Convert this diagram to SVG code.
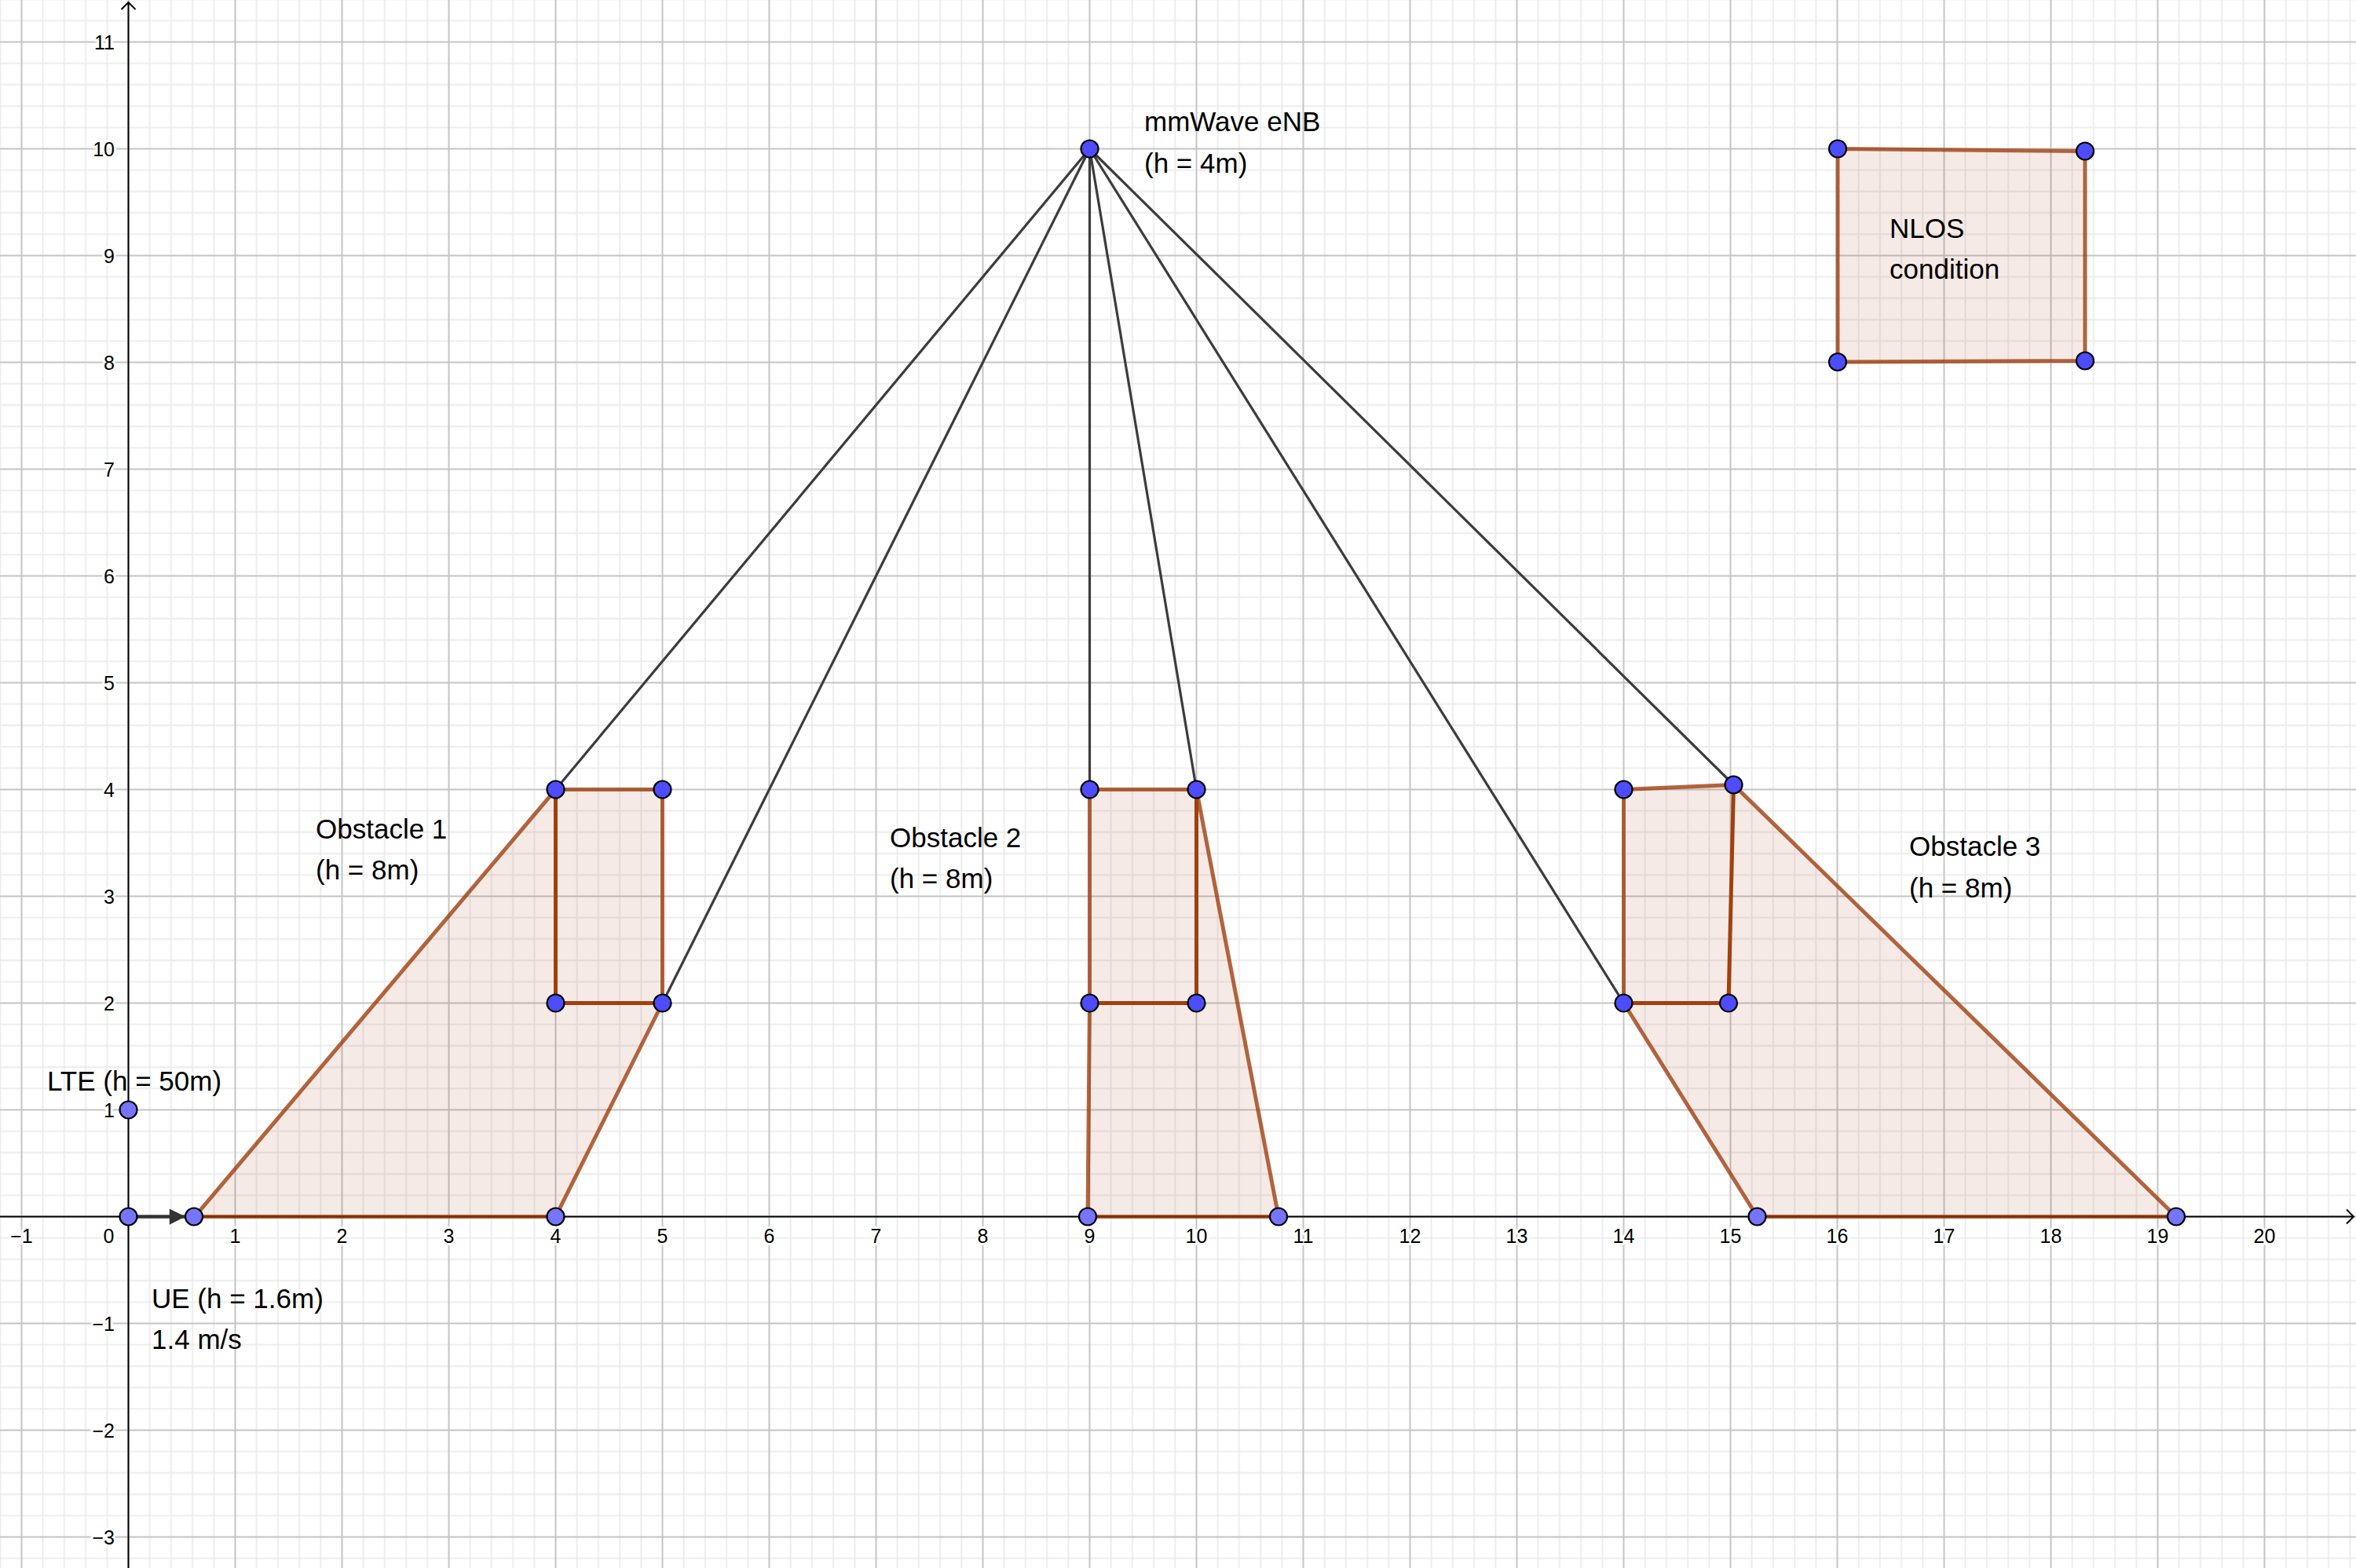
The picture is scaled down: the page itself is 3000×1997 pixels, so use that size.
<svg xmlns="http://www.w3.org/2000/svg" width="3000" height="1997" viewBox="0 0 3000 1997">
<style>
.tick{font-family:"Liberation Sans",Arial,sans-serif;font-size:25px;fill:#000;stroke:#fff;stroke-width:6px;paint-order:stroke;stroke-linejoin:round}
.tx{text-anchor:middle}
.ty{text-anchor:end}
.lbl{font-family:"Liberation Sans",Arial,sans-serif;font-size:35px;fill:#000}
.shape{fill:#993300;fill-opacity:0.1;stroke:#993300;stroke-opacity:0.75;stroke-width:5;stroke-linejoin:round}
.seg{stroke:#a0400f;stroke-width:5;stroke-linecap:round;fill:none}
.ray{stroke:#3c3c3c;stroke-width:3.2;fill:none}
.pt{fill:#4d4dff;stroke:#000;stroke-width:2.2}
.pt2{fill:#7575ff;stroke:#000;stroke-width:2.2}
.axis{stroke:#000;stroke-width:2;fill:none}
</style>
<defs>
<pattern id="grid" patternUnits="userSpaceOnUse" x="95.5" y="1481.5" width="136" height="136">
<path d="M13.6 0V136M40.8 0V136M95.2 0V136M122.4 0V136M0 13.6H136M0 40.8H136M0 95.2H136M0 122.4H136" stroke="#e8e8e8" stroke-width="1.6" fill="none"/>
<path d="M68 0V136M0 68H136" stroke="#c4c4c4" stroke-width="2" fill="none"/>
</pattern>
<marker id="ah" viewBox="0 0 10 10" refX="10" refY="5" markerWidth="6.5" markerHeight="4.5" markerUnits="strokeWidth" orient="auto">
<path d="M0 0L10 5L0 10Z" fill="#333"/>
</marker>
</defs>
<rect width="3000" height="1997" fill="#fff"/>
<rect width="3000" height="1997" fill="url(#grid)"/>
<g id="axes">
<path class="axis" d="M0 1549.5H2997M2988 1540.5L2997 1549.5L2988 1558.5"/>
<path class="axis" d="M163.5 1997V3M154.5 12L163.5 3L172.5 12"/>
<g class="tick tx">
<text x="27.5" y="1583">−1</text><text x="138.5" y="1583">0</text>
<text x="299.5" y="1583">1</text><text x="435.5" y="1583">2</text><text x="571.5" y="1583">3</text><text x="707.5" y="1583">4</text><text x="843.5" y="1583">5</text>
<text x="979.5" y="1583">6</text><text x="1115.5" y="1583">7</text><text x="1251.5" y="1583">8</text><text x="1387.5" y="1583">9</text><text x="1523.5" y="1583">10</text>
<text x="1659.5" y="1583">11</text><text x="1795.5" y="1583">12</text><text x="1931.5" y="1583">13</text><text x="2067.5" y="1583">14</text><text x="2203.5" y="1583">15</text>
<text x="2339.5" y="1583">16</text><text x="2475.5" y="1583">17</text><text x="2611.5" y="1583">18</text><text x="2747.5" y="1583">19</text><text x="2883.5" y="1583">20</text>
</g>
<g class="tick ty">
<text x="146" y="63">11</text><text x="146" y="199">10</text><text x="146" y="335">9</text><text x="146" y="471">8</text><text x="146" y="607">7</text>
<text x="146" y="743">6</text><text x="146" y="879">5</text><text x="146" y="1015">4</text><text x="146" y="1151">3</text><text x="146" y="1287">2</text>
<text x="146" y="1423">1</text><text x="146" y="1695">−1</text><text x="146" y="1831">−2</text><text x="146" y="1967">−3</text>
</g>
</g>
<g id="nlos">
<polygon class="shape" points="2340,189.5 2655,192.5 2655,459.5 2340,461"/>
<circle class="pt" cx="2340" cy="189.5" r="11"/><circle class="pt" cx="2655" cy="192.5" r="11"/>
<circle class="pt" cx="2655" cy="459.5" r="11"/><circle class="pt" cx="2340" cy="461" r="11"/>
<text class="lbl" x="2406" y="303">NLOS</text>
<text class="lbl" x="2406" y="355">condition</text>
</g>
<g id="obstacle1">
<polygon class="shape" points="248,1549.5 707.5,1005.5 843.5,1005.5 843.5,1277.5 707.5,1549.5"/>
<path class="seg" d="M707.5 1005.5V1277.5H843.5"/>
<text class="lbl" x="402" y="1068">Obstacle 1</text>
<text class="lbl" x="402" y="1120">(h = 8m)</text>
</g>
<g id="obstacle2">
<polygon class="shape" points="1387.5,1005.5 1523.5,1005.5 1628,1549.5 1385,1549.5 1387.5,1277.5"/>
<path class="seg" d="M1523.5 1005.5V1277.5H1387.5"/>
<text class="lbl" x="1133" y="1079">Obstacle 2</text>
<text class="lbl" x="1133" y="1131">(h = 8m)</text>
</g>
<g id="obstacle3">
<polygon class="shape" points="2067.5,1005.5 2207.5,999.5 2771,1549.5 2237.5,1549.5 2067.5,1277.5"/>
<path class="seg" d="M2207.5 999.5L2201 1277.5H2067.5"/>
<text class="lbl" x="2431" y="1090">Obstacle 3</text>
<text class="lbl" x="2431" y="1143">(h = 8m)</text>
</g>
<g id="connectors">
<path class="ray" d="M1387.5 189.5L707.5 1005.5M1387.5 189.5L843.5 1277.5M1387.5 189.5V1005.5M1387.5 189.5L1523.5 1005.5M1387.5 189.5L2067.5 1277.5M1387.5 189.5L2207.5 999.5"/>
<line x1="163.5" y1="1549.5" x2="236" y2="1549.5" stroke="#333" stroke-width="4.5" marker-end="url(#ah)"/>
</g>
<g id="points">
<circle class="pt" cx="707.5" cy="1005.5" r="11"/><circle class="pt" cx="843.5" cy="1005.5" r="11"/>
<circle class="pt" cx="707.5" cy="1277.5" r="11"/><circle class="pt" cx="843.5" cy="1277.5" r="11"/>
<circle class="pt2" cx="707.5" cy="1549.5" r="11"/>
<circle class="pt" cx="1387.5" cy="1005.5" r="11"/><circle class="pt" cx="1523.5" cy="1005.5" r="11"/>
<circle class="pt" cx="1387.5" cy="1277.5" r="11"/><circle class="pt" cx="1523.5" cy="1277.5" r="11"/>
<circle class="pt2" cx="1385" cy="1549.5" r="11"/><circle class="pt2" cx="1628" cy="1549.5" r="11"/>
<circle class="pt" cx="2067.5" cy="1005.5" r="11"/><circle class="pt" cx="2207.5" cy="999.5" r="11"/>
<circle class="pt" cx="2067.5" cy="1277.5" r="11"/><circle class="pt" cx="2201" cy="1277.5" r="11"/>
<circle class="pt2" cx="2237.5" cy="1549.5" r="11"/><circle class="pt2" cx="2771" cy="1549.5" r="11"/>
</g>
<g id="enb">
<circle class="pt" cx="1387.5" cy="189.5" r="11"/>
<text class="lbl" x="1457" y="167">mmWave eNB</text>
<text class="lbl" x="1457" y="220">(h = 4m)</text>
</g>
<g id="lte">
<text class="lbl" x="60" y="1389">LTE (h = 50m)</text>
<circle class="pt2" cx="163.5" cy="1413.5" r="11"/>
</g>
<g id="ue">
<circle class="pt2" cx="163.5" cy="1549.5" r="11"/>
<circle class="pt2" cx="247" cy="1549.5" r="11"/>
<text class="lbl" x="193" y="1666">UE (h = 1.6m)</text>
<text class="lbl" x="193" y="1718">1.4 m/s</text>
</g>
</svg>
